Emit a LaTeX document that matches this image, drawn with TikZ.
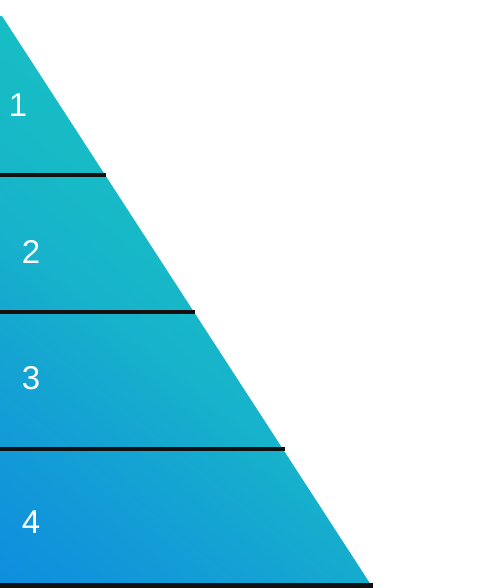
\documentclass[tikz,border=0pt]{standalone}
\usepackage{fontspec}
\setmainfont{Liberation Sans}
\definecolor{gA}{HTML}{0C88E2}
\definecolor{gB}{HTML}{0F8EDE}
\definecolor{gC}{HTML}{14A0D4}
\definecolor{gD}{HTML}{15A9CF}
\definecolor{gE}{HTML}{17B2CB}
\definecolor{gF}{HTML}{17BBC5}
\definecolor{gG}{HTML}{18BEC3}
\definecolor{sepc}{HTML}{101010}
\pgfdeclareverticalshading{trigrad}{1000bp}{color(0bp)=(gA); color(72bp)=(gB); color(221bp)=(gC); color(283bp)=(gD); color(341bp)=(gE); color(448bp)=(gF); color(600bp)=(gG)}
\begin{document}
\begin{tikzpicture}[x=1pt,y=-1pt,
  sepline/.style={line width=4.5pt, draw=sepc},
  lbl/.style={text=white, font=\fontsize{33}{33}\selectfont, inner sep=0pt}]
\useasboundingbox (0,0) rectangle (489,588);
\coordinate (apexL) at (0,16);
\coordinate (apex) at (2,16);
\coordinate (base) at (373,588);
\coordinate (baseL) at (0,588);
\begin{scope}
  \clip (apexL) -- (apex) -- (base) -- (baseL) -- cycle;
  \node[inner sep=0pt, outer sep=0pt, rotate=-39] (grad) at (150,400) {\pgfuseshading{trigrad}};
\end{scope}
\coordinate (s1a) at (0,175);   \coordinate (s1b) at (106,175);
\coordinate (s2a) at (0,312);   \coordinate (s2b) at (195,312);
\coordinate (s3a) at (0,449);   \coordinate (s3b) at (285,449);
\coordinate (s4a) at (0,585.5); \coordinate (s4b) at (373,585.5);
\draw[sepline] (s1a) -- (s1b);
\draw[sepline] (s2a) -- (s2b);
\draw[sepline] (s3a) -- (s3b);
\draw[sepline] (s4a) -- (s4b);
\node[lbl] (l1) at (18,105) {1};
\node[lbl] (l2) at (31,252) {2};
\node[lbl] (l3) at (31,378) {3};
\node[lbl] (l4) at (31,522) {4};
\end{tikzpicture}
\end{document}
